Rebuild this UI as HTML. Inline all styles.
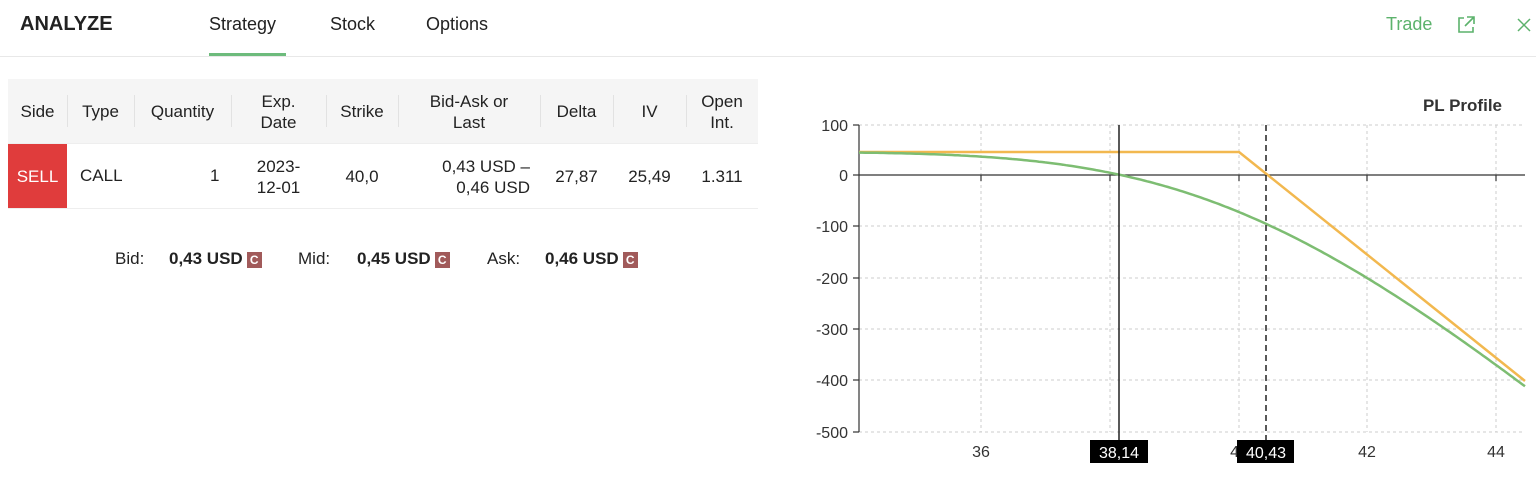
<!DOCTYPE html>
<html><head><meta charset="utf-8"><style>
body{margin:0;width:1536px;height:478px;background:#fff;font-family:"Liberation Sans",sans-serif;color:#222;position:relative;overflow:hidden}
.a{position:absolute;white-space:nowrap}
.c{position:absolute;text-align:center;font-size:17px;line-height:21px}
.sep{position:absolute;top:95px;width:1px;height:32px;background:#e2e2e2}
.cb{display:inline-block;background:#a15a5a;color:#fff;font-size:12px;width:15px;height:16px;line-height:16px;text-align:center;vertical-align:middle;margin-left:4px}
</style></head><body>
<div class="a" style="left:20px;top:13px;font-size:20px;font-weight:bold;color:#222">ANALYZE</div>
<div class="a" style="left:209px;top:14px;font-size:18px">Strategy</div>
<div class="a" style="left:330px;top:14px;font-size:18px">Stock</div>
<div class="a" style="left:426px;top:14px;font-size:18px">Options</div>
<div class="a" style="left:209px;top:53px;width:77px;height:3px;background:#6dbb7c"></div>
<div class="a" style="left:0;top:56px;width:1536px;height:1px;background:#e8e8e8"></div>
<div class="a" style="left:1386px;top:14px;font-size:18px;color:#5cb26c">Trade</div>
<svg class="a" style="left:1456px;top:15px" width="20" height="20" viewBox="0 0 20 20" fill="none" stroke="#5cb26c" stroke-width="1.6"><path d="M8 3H3v14h14v-5M11 2h7v7M18 2l-9 9"/></svg>
<svg class="a" style="left:1516px;top:17px" width="16" height="16" viewBox="0 0 16 16" stroke="#5cb26c" stroke-width="1.5"><path d="M2 2L14 14M14 2L2 14"/></svg>

<div class="a" style="left:8px;top:79px;width:750px;height:65px;background:#f5f5f5"></div>
<div class="sep" style="left:67px"></div><div class="sep" style="left:134px"></div><div class="sep" style="left:231px"></div><div class="sep" style="left:326px"></div><div class="sep" style="left:398px"></div><div class="sep" style="left:540px"></div><div class="sep" style="left:613px"></div><div class="sep" style="left:686px"></div>
<div class="a" style="left:8px;top:143px;width:750px;height:1px;background:#eee"></div>
<div class="a" style="left:8px;top:208px;width:750px;height:1px;background:#eee"></div>
<div class="a" style="left:8px;top:144px;width:59px;height:64px;background:#e03c3c"></div>
<div class="c" style="left:8px;top:101px;width:59px">Side</div>
<div class="c" style="left:67px;top:101px;width:67px">Type</div>
<div class="c" style="left:134px;top:101px;width:97px">Quantity</div>
<div class="c" style="left:231px;top:91px;width:95px">Exp.<br>Date</div>
<div class="c" style="left:326px;top:101px;width:72px">Strike</div>
<div class="c" style="left:398px;top:91px;width:142px">Bid-Ask or<br>Last</div>
<div class="c" style="left:540px;top:101px;width:73px">Delta</div>
<div class="c" style="left:613px;top:101px;width:73px">IV</div>
<div class="c" style="left:686px;top:91px;width:72px">Open<br>Int.</div>
<div class="c" style="left:8px;top:166px;width:59px;color:#fff">SELL</div>
<div class="a" style="left:80px;top:166px;font-size:17px">CALL</div>
<div class="a" style="left:210px;top:166px;font-size:17px">1</div>
<div class="c" style="left:231px;top:156px;width:95px">2023-<br>12-01</div>
<div class="c" style="left:326px;top:166px;width:72px">40,0</div>
<div class="c" style="left:398px;top:156px;width:132px;text-align:right">0,43 USD –<br>0,46 USD</div>
<div class="c" style="left:540px;top:166px;width:73px">27,87</div>
<div class="c" style="left:613px;top:166px;width:73px">25,49</div>
<div class="c" style="left:686px;top:166px;width:72px">1.311</div>
<div class="a" style="left:115px;top:249px;font-size:17px">Bid:</div>
<div class="a" style="left:169px;top:249px;font-size:17px;font-weight:bold">0,43 USD<span class="cb">C</span></div>
<div class="a" style="left:298px;top:249px;font-size:17px">Mid:</div>
<div class="a" style="left:357px;top:249px;font-size:17px;font-weight:bold">0,45 USD<span class="cb">C</span></div>
<div class="a" style="left:487px;top:249px;font-size:17px">Ask:</div>
<div class="a" style="left:545px;top:249px;font-size:17px;font-weight:bold">0,46 USD<span class="cb">C</span></div>

<svg class="a" style="left:0;top:0" width="1536" height="478" font-family="Liberation Sans, sans-serif">
<text x="1502" y="111" font-size="17" font-weight="bold" text-anchor="end" fill="#333">PL Profile</text>
<g stroke="#ccc" stroke-dasharray="3,3" stroke-width="1">
<line x1="859" x2="1525" y1="125" y2="125"/><line x1="859" x2="1525" y1="226" y2="226"/><line x1="859" x2="1525" y1="278" y2="278"/><line x1="859" x2="1525" y1="329" y2="329"/><line x1="859" x2="1525" y1="380" y2="380"/><line x1="859" x2="1525" y1="432" y2="432"/>
<line x1="981" x2="981" y1="125" y2="432"/><line x1="1110" x2="1110" y1="125" y2="432"/><line x1="1239" x2="1239" y1="125" y2="432"/><line x1="1367" x2="1367" y1="125" y2="432"/><line x1="1496" x2="1496" y1="125" y2="432"/>
</g>
<g stroke="#333" stroke-width="1.2">
<line x1="859" x2="859" y1="125" y2="432"/><line x1="859" x2="1525" y1="175" y2="175"/>
<line x1="853" x2="859" y1="125" y2="125"/><line x1="853" x2="859" y1="175" y2="175"/><line x1="853" x2="859" y1="226" y2="226"/><line x1="853" x2="859" y1="278" y2="278"/><line x1="853" x2="859" y1="329" y2="329"/><line x1="853" x2="859" y1="380" y2="380"/><line x1="853" x2="859" y1="432" y2="432"/>
<line x1="981" x2="981" y1="175" y2="181"/><line x1="1110" x2="1110" y1="175" y2="181"/><line x1="1239" x2="1239" y1="175" y2="181"/><line x1="1367" x2="1367" y1="175" y2="181"/><line x1="1496" x2="1496" y1="175" y2="181"/>
</g>
<g font-size="16" fill="#333" text-anchor="end">
<text x="848" y="131">100</text><text x="848" y="181">0</text><text x="848" y="232">-100</text><text x="848" y="284">-200</text><text x="848" y="335">-300</text><text x="848" y="386">-400</text><text x="848" y="438">-500</text>
</g>
<g font-size="16" fill="#333" text-anchor="middle">
<text x="981" y="457">36</text><text x="1239" y="457">40</text><text x="1367" y="457">42</text><text x="1496" y="457">44</text>
</g>
<polyline fill="none" stroke="#f2b84f" stroke-width="2.5" points="859,152 1239,152 1525,381"/>
<polyline id="g" fill="none" stroke="#7dbd72" stroke-width="2.5" points="859,152.9 917,153.9 981,156.5 1046,162.7 1110,172.4 1119,175 1174,190.4 1239,212 1266,223.8 1303,240.8 1367,277.8 1432,321.5 1496,367.8 1525,391.9"/>
<line x1="1119" x2="1119" y1="125" y2="440" stroke="#222" stroke-width="1.5"/>
<line x1="1266" x2="1266" y1="125" y2="440" stroke="#222" stroke-width="1.5" stroke-dasharray="6,4"/>
<rect x="1090" y="440" width="58" height="23" fill="#000"/>
<text x="1119" y="458" font-size="16" fill="#fff" text-anchor="middle">38,14</text>
<rect x="1237" y="440" width="57" height="23" fill="#000"/>
<text x="1266" y="458" font-size="16" fill="#fff" text-anchor="middle">40,43</text>
</svg>
<script>
function N(x){var t=1/(1+0.2316419*Math.abs(x));var d=0.3989423*Math.exp(-x*x/2);var p=d*t*(0.3193815+t*(-0.3565638+t*(1.781478+t*(-1.821256+t*1.330274))));return x>0?1-p:p;}
var pts=[];var sv=0.073;
for(var px=859;px<=1525;px+=3){var S=36+(px-981)/64.3;var d1=(Math.log(S/40)+sv*sv/2)/sv;var C=S*N(d1)-40*N(d1-sv);var v=45-100*C;pts.push(px+","+(175-0.514*v).toFixed(1));}
document.getElementById("g").setAttribute("points",pts.join(" "));
</script>
</body></html>
